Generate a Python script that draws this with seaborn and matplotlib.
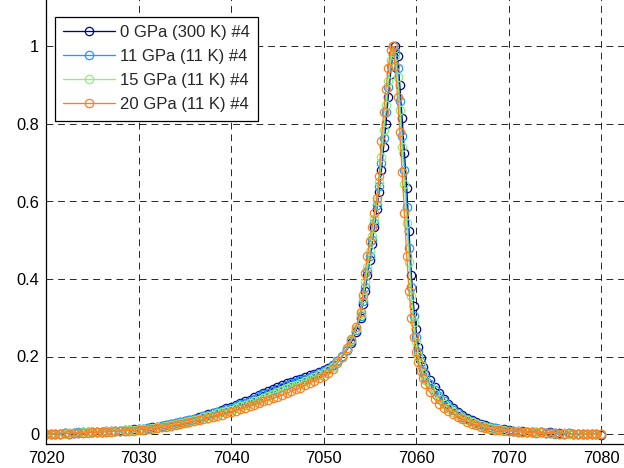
import numpy as np
import pandas as pd
import matplotlib
matplotlib.use("Agg")
import matplotlib.pyplot as plt
import seaborn as sns
from matplotlib.ticker import FormatStrFormatter

# ---------------- data ----------------
energy = [
    7020.0, 7020.5, 7021.0, 7021.5, 7022.0, 7022.5, 7023.0, 7023.5, 7024.0, 7024.5,
    7025.0, 7025.5, 7026.0, 7026.5, 7027.0, 7027.5, 7028.0, 7028.5, 7029.0, 7029.5,
    7030.0, 7030.5, 7031.0, 7031.5, 7032.0, 7032.5, 7033.0, 7033.5, 7034.0, 7034.5,
    7035.0, 7035.5, 7036.0, 7036.5, 7037.0, 7037.5, 7038.0, 7038.5, 7039.0, 7039.5,
    7040.0, 7040.5, 7041.0, 7041.5, 7042.0, 7042.5, 7043.0, 7043.5, 7044.0, 7044.5,
    7045.0, 7045.5, 7046.0, 7046.5, 7047.0, 7047.5, 7048.0, 7048.5, 7049.0, 7049.5,
    7050.0, 7050.5, 7051.0, 7051.5, 7052.0, 7052.5, 7053.0, 7053.5, 7054.0,
    7054.25, 7054.5, 7054.75, 7055.0, 7055.25, 7055.5, 7055.75, 7056.0, 7056.25, 7056.5,
    7056.75, 7057.0, 7057.25, 7057.5, 7057.75, 7058.0, 7058.25, 7058.5, 7058.75, 7059.0,
    7059.25, 7059.5, 7059.75, 7060.0, 7060.25, 7060.5, 7060.75, 7061.0,
    7061.5, 7062.0, 7062.5, 7063.0, 7063.5, 7064.0, 7064.5, 7065.0, 7065.5, 7066.0,
    7066.5, 7067.0, 7067.5, 7068.0, 7068.5, 7069.0, 7069.5, 7070.0, 7070.5, 7071.0,
    7071.5, 7072.0, 7072.5, 7073.0, 7073.5, 7074.0, 7074.5, 7075.0, 7075.5, 7076.0,
    7076.5, 7077.0, 7077.5, 7078.0, 7078.5, 7079.0, 7079.5, 7080.0,
]

gpa0_300k = [
    0.000, 0.001, -0.001, 0.001, 0.002, 0.001, 0.003, 0.002, 0.004, 0.004,
    0.005, 0.004, 0.006, 0.007, 0.007, 0.008, 0.009, 0.010, 0.010, 0.012,
    0.012, 0.014, 0.015, 0.017, 0.019, 0.021, 0.023, 0.026, 0.028, 0.031,
    0.034, 0.037, 0.040, 0.044, 0.047, 0.051, 0.055, 0.058, 0.062, 0.066,
    0.070, 0.074, 0.079, 0.084, 0.089, 0.095, 0.100, 0.106, 0.111, 0.117,
    0.122, 0.127, 0.131, 0.135, 0.139, 0.143, 0.147, 0.151, 0.155, 0.159,
    0.164, 0.170, 0.178, 0.188, 0.200, 0.216, 0.236, 0.264, 0.300,
    0.335, 0.370, 0.410, 0.450, 0.490, 0.535, 0.580, 0.625, 0.680, 0.740,
    0.800, 0.870, 0.930, 0.980, 1.000, 0.975, 0.900, 0.815, 0.725, 0.635,
    0.525, 0.410, 0.330, 0.270, 0.225, 0.195, 0.172, 0.155,
    0.140, 0.122, 0.106, 0.091, 0.078, 0.066, 0.057, 0.048, 0.042, 0.036,
    0.031, 0.026, 0.022, 0.019, 0.016, 0.014, 0.012, 0.010, 0.009, 0.007,
    0.007, 0.005, 0.006, 0.004, 0.004, 0.003, 0.004, 0.002, 0.002, 0.001,
    0.002, 0.000, 0.001, 0.000, -0.001, 0.000, -0.001, -0.002,
]

gpa11_11k = [
    -0.001, 0.000, 0.001, 0.000, 0.002, 0.002, 0.002, 0.004, 0.003, 0.005,
    0.004, 0.006, 0.006, 0.006, 0.008, 0.008, 0.009, 0.009, 0.011, 0.011,
    0.013, 0.013, 0.015, 0.016, 0.018, 0.020, 0.023, 0.025, 0.028, 0.030,
    0.033, 0.036, 0.039, 0.042, 0.046, 0.049, 0.053, 0.057, 0.060, 0.064,
    0.068, 0.072, 0.077, 0.081, 0.086, 0.091, 0.097, 0.102, 0.107, 0.112,
    0.117, 0.122, 0.126, 0.131, 0.135, 0.139, 0.143, 0.148, 0.152, 0.157,
    0.162, 0.169, 0.177, 0.188, 0.201, 0.218, 0.240, 0.268, 0.305,
    0.342, 0.380, 0.420, 0.460, 0.500, 0.545, 0.590, 0.640, 0.700, 0.765,
    0.830, 0.895, 0.950, 1.000, 0.985, 0.945, 0.860, 0.770, 0.680, 0.585,
    0.480, 0.380, 0.305, 0.250, 0.212, 0.185, 0.163, 0.147,
    0.130, 0.113, 0.098, 0.084, 0.072, 0.062, 0.053, 0.045, 0.039, 0.033,
    0.028, 0.024, 0.020, 0.017, 0.015, 0.012, 0.011, 0.009, 0.008, 0.006,
    0.006, 0.004, 0.005, 0.003, 0.004, 0.002, 0.003, 0.001, -0.001, 0.002,
    0.000, 0.001, -0.001, 0.001, 0.000, -0.001, 0.000, 0.001,
]

gpa15_11k = [
    0.000, -0.001, 0.001, 0.001, 0.001, 0.003, 0.002, 0.003, 0.004, 0.004,
    0.005, 0.005, 0.006, 0.007, 0.007, 0.008, 0.008, 0.010, 0.010, 0.011,
    0.012, 0.013, 0.014, 0.016, 0.017, 0.019, 0.021, 0.024, 0.026, 0.028,
    0.031, 0.034, 0.037, 0.040, 0.043, 0.046, 0.050, 0.053, 0.056, 0.060,
    0.063, 0.067, 0.071, 0.075, 0.080, 0.084, 0.089, 0.094, 0.099, 0.104,
    0.108, 0.113, 0.118, 0.123, 0.127, 0.132, 0.137, 0.142, 0.147, 0.152,
    0.158, 0.165, 0.174, 0.186, 0.200, 0.219, 0.242, 0.272, 0.310,
    0.350, 0.392, 0.432, 0.472, 0.512, 0.555, 0.600, 0.650, 0.715, 0.785,
    0.850, 0.910, 0.965, 1.000, 0.975, 0.920, 0.835, 0.740, 0.645, 0.545,
    0.445, 0.355, 0.288, 0.237, 0.202, 0.177, 0.156, 0.140,
    0.122, 0.104, 0.090, 0.078, 0.067, 0.058, 0.050, 0.042, 0.036, 0.031,
    0.026, 0.022, 0.019, 0.016, 0.013, 0.012, 0.010, 0.009, 0.007, 0.007,
    0.005, 0.005, 0.004, 0.004, 0.003, 0.003, 0.002, 0.002, 0.001, 0.002,
    0.001, 0.000, 0.001, -0.001, 0.000, 0.000, -0.001, 0.000,
]

gpa20_11k = [
    0.000, 0.000, 0.001, 0.000, 0.002, 0.001, 0.002, 0.003, 0.003, 0.003,
    0.004, 0.005, 0.005, 0.006, 0.006, 0.007, 0.007, 0.008, 0.009, 0.009,
    0.010, 0.011, 0.012, 0.014, 0.015, 0.017, 0.019, 0.021, 0.023, 0.025,
    0.028, 0.030, 0.033, 0.035, 0.038, 0.041, 0.044, 0.047, 0.050, 0.053,
    0.056, 0.060, 0.064, 0.068, 0.072, 0.076, 0.080, 0.084, 0.088, 0.092,
    0.096, 0.100, 0.105, 0.110, 0.115, 0.120, 0.126, 0.132, 0.138, 0.144,
    0.150, 0.158, 0.168, 0.182, 0.200, 0.221, 0.246, 0.277, 0.315,
    0.360, 0.415, 0.460, 0.498, 0.535, 0.570, 0.610, 0.665, 0.755, 0.830,
    0.890, 0.945, 0.990, 1.000, 0.950, 0.870, 0.780, 0.675, 0.570, 0.460,
    0.370, 0.300, 0.250, 0.212, 0.185, 0.163, 0.145, 0.130,
    0.108, 0.090, 0.078, 0.068, 0.059, 0.052, 0.045, 0.038, 0.032, 0.027,
    0.023, 0.019, 0.016, 0.013, 0.011, 0.010, 0.009, 0.008, 0.007, 0.006,
    0.005, 0.005, 0.004, 0.003, 0.004, 0.002, 0.003, 0.002, 0.001, 0.001,
    0.002, 0.000, 0.001, 0.000, -0.001, 0.000, 0.000, -0.001,
]

series_labels = ["0 GPa (300 K) #4", "11 GPa (11 K) #4", "15 GPa (11 K) #4", "20 GPa (11 K) #4"]
series_values = [gpa0_300k, gpa11_11k, gpa15_11k, gpa20_11k]
series_colors = ["#00008F", "#1E9BFF", "#8CF07A", "#FF7F1E"]

xticks = [7020, 7030, 7040, 7050, 7060, 7070, 7080]
yticks = [0, 0.2, 0.4, 0.6, 0.8, 1.0]

# ---------------- plot ----------------
sns.set_style("white")
plt.rcParams["font.family"] = ["Liberation Sans", "DejaVu Sans"]

W, H = 624, 468
fig = plt.figure(figsize=(W / 100, H / 100), dpi=100)

# axes geometry in pixels (reference is a crop of a larger MATLAB figure)
px_per_x = 9.25
px_per_y = 387.5
x0_px, y0_px = 46.0, 434.0   # pixel of (7020, 0)
xlim = (7020, 7090)
ylim = (-0.025, 1.2)
left = x0_px / W
bottom = (H - (y0_px - ylim[0] * px_per_y)) / H
width = (xlim[1] - xlim[0]) * px_per_x / W
height = (ylim[1] - ylim[0]) * px_per_y / H
ax = fig.add_axes([left, bottom, width, height])

for lab, vals, col in zip(series_labels, series_values, series_colors):
    df = pd.DataFrame({"E": energy, "I": vals})
    sns.lineplot(data=df, x="E", y="I", ax=ax, color=col, label=lab,
                 marker="o", markersize=6, markerfacecolor="none",
                 markeredgecolor=col, markeredgewidth=0.9, linewidth=0.95,
                 sort=False, estimator=None)

ax.set_xlim(*xlim)
ax.set_ylim(*ylim)
ax.set_xticks(xticks)
ax.set_yticks(yticks)
ax.yaxis.set_major_formatter(FormatStrFormatter("%g"))
ax.set_xlabel("")
ax.set_ylabel("")
ax.tick_params(direction="in", length=5, width=0.8, labelsize=11.8, colors="k",
               top=True, right=True, pad=5)
ax.grid(True, color="k", linestyle=(0, (7, 5)), linewidth=0.7, alpha=0.85)
for s in ax.spines.values():
    s.set_color("k")
    s.set_linewidth(0.9)

leg = ax.legend(loc="upper left", bbox_to_anchor=(55 / W, 1 - 17 / H),
                bbox_transform=fig.transFigure, borderaxespad=0,
                frameon=True, fancybox=False, edgecolor="k", framealpha=1,
                fontsize=12, handlelength=3.1, handletextpad=0.3,
                labelspacing=0.54, borderpad=0.5, numpoints=1)
leg.get_frame().set_linewidth(0.9)

fig.savefig("out.png", dpi=100)
